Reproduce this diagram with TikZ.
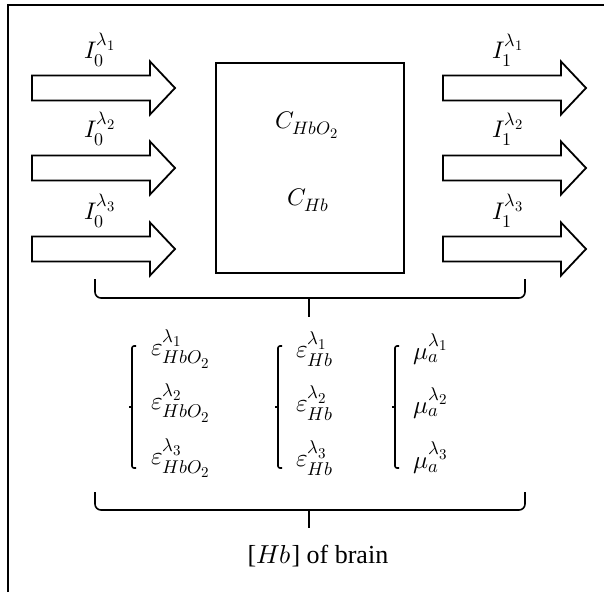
\documentclass[tikz,border=0pt]{standalone}
\usepackage{fontspec}
\usepackage{unicode-math}
\setmainfont{Liberation Serif}
\setmathfont{Latin Modern Math}
\DeclareMathSizes{24}{24}{18}{14.5}
\DeclareMathSizes{25}{25}{18.5}{15}
\begin{document}
\begin{tikzpicture}[x=1pt,y=-1pt,
  frame/.style={line width=2pt},
  barrow/.style={line width=1.8pt, line join=miter},
  lbl/.style={font=\fontsize{24}{28}\selectfont, inner sep=0pt},
  ent/.style={font=\fontsize{25}{29}\selectfont, inner sep=0pt, anchor=west},
  bracestyle/.style={line width=1.6pt, rounded corners=6pt},
  brk/.style={line width=1.6pt, rounded corners=2pt},
  blockarr/.pic={\draw[barrow] (0,-12.5) -- (118,-12.5) -- (118,-26.5) -- (143,0) -- (118,26.5) -- (118,12.5) -- (0,12.5) -- cycle;}]
\useasboundingbox (0,0) rectangle (604,592);
% frame
\draw[frame] (8,592) -- (8,5) -- (604,5);
% input and output arrows
\pic at (32,88) {blockarr};
\pic at (32,168) {blockarr};
\pic at (32,249) {blockarr};
\pic at (443,88) {blockarr};
\pic at (443,168) {blockarr};
\pic at (443,249) {blockarr};
\node[lbl] (i01) at (100,50) {$I_0^{\lambda_1}$};
\node[lbl] (i02) at (100,129) {$I_0^{\lambda_2}$};
\node[lbl] (i03) at (100,211) {$I_0^{\lambda_3}$};
\node[lbl] (i11) at (508,50) {$I_1^{\lambda_1}$};
\node[lbl] (i12) at (508,129) {$I_1^{\lambda_2}$};
\node[lbl] (i13) at (508,211) {$I_1^{\lambda_3}$};
% box
\node[draw, line width=1.8pt, minimum width=188pt, minimum height=210pt] (box) at (310,168) {};
\node[lbl] (chbo) at (307,125) {$C_{HbO_2}$};
\node[lbl] (chb) at (308,200) {$C_{Hb}$};
% upper brace
\draw[bracestyle] (95,279) -- (95,298) -- (525,298) -- (525,279);
\draw[line width=1.6pt] (309,298) -- (309,317);
% brackets
\foreach \bx in {132,278,395}{
  \draw[brk] (\bx+4,346) -- (\bx,346) -- (\bx,468) -- (\bx+4,468);
  \draw[line width=1.6pt] (\bx,407) -- (\bx-3,407);
}
% entries
\node[ent] (e11) at (151,349) {$\varepsilon_{HbO_2}^{\lambda_1}$};
\node[ent] (e12) at (151,403) {$\varepsilon_{HbO_2}^{\lambda_2}$};
\node[ent] (e13) at (151,458) {$\varepsilon_{HbO_2}^{\lambda_3}$};
\node[ent] (e21) at (296,349) {$\varepsilon_{Hb}^{\lambda_1}$};
\node[ent] (e22) at (296,403) {$\varepsilon_{Hb}^{\lambda_2}$};
\node[ent] (e23) at (296,458) {$\varepsilon_{Hb}^{\lambda_3}$};
\node[ent] (m1) at (413,349) {$\mu_a^{\lambda_1}$};
\node[ent] (m2) at (413,403) {$\mu_a^{\lambda_2}$};
\node[ent] (m3) at (413,458) {$\mu_a^{\lambda_3}$};
% lower brace
\draw[bracestyle] (95,492) -- (95,510) -- (525,510) -- (525,492);
\draw[line width=1.6pt] (309,510) -- (309,528);
\node[font=\fontsize{26}{30}\selectfont, inner sep=0pt] (brain) at (318,556) {[$Hb$] of brain};
\end{tikzpicture}
\end{document}
